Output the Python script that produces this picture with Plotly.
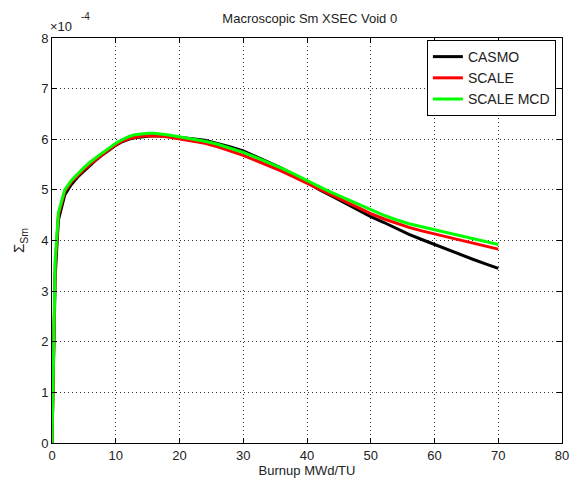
import plotly.graph_objects as go

# Burnup (MWd/TU) and macroscopic Sm cross section (units of 1e-4)
burnup = [0, 0.5, 1, 2, 3, 4, 5, 6, 7, 8, 9, 10, 11, 12, 13, 14, 15, 16, 17, 18, 19, 20,
          22, 24, 26, 28, 30, 32, 34, 36, 38, 40, 42, 44, 46, 48, 50, 52, 54, 56, 58, 60,
          62, 64, 66, 68, 70]

casmo = [0, 3.3, 4.4, 4.9, 5.1, 5.25, 5.37, 5.49, 5.6, 5.7, 5.79, 5.88, 5.95, 6.0, 6.03,
         6.05, 6.06, 6.07, 6.07, 6.06, 6.05, 6.04, 6.01, 5.98, 5.92, 5.85, 5.77, 5.66, 5.55,
         5.43, 5.3, 5.15, 5.0, 4.87, 4.74, 4.6, 4.47, 4.36, 4.24, 4.12, 4.02, 3.92, 3.82,
         3.73, 3.63, 3.54, 3.45]

scale = [0, 3.5, 4.5, 4.97, 5.15, 5.28, 5.4, 5.51, 5.61, 5.71, 5.8, 5.89, 5.96, 6.01, 6.04,
         6.06, 6.07, 6.07, 6.06, 6.05, 6.03, 6.01, 5.97, 5.92, 5.85, 5.77, 5.68, 5.58, 5.48,
         5.37, 5.25, 5.13, 5.01, 4.89, 4.77, 4.65, 4.53, 4.43, 4.34, 4.26, 4.19, 4.13, 4.07,
         4.01, 3.95, 3.89, 3.83]

scale_mcd = [0, 3.6, 4.55, 5.0, 5.18, 5.32, 5.44, 5.55, 5.65, 5.74, 5.83, 5.92, 5.99, 6.05,
             6.09, 6.11, 6.12, 6.12, 6.11, 6.09, 6.07, 6.05, 6.0, 5.96, 5.9, 5.82, 5.74, 5.64,
             5.54, 5.43, 5.31, 5.18, 5.06, 4.94, 4.83, 4.71, 4.6, 4.5, 4.41, 4.33, 4.27, 4.21,
             4.15, 4.1, 4.04, 3.98, 3.92]

series_names = ["CASMO", "SCALE", "SCALE MCD"]
series_colors = ["#000000", "#ff0000", "#00ff00"]

x_ticks = [0, 10, 20, 30, 40, 50, 60, 70, 80]
y_ticks = [0, 1, 2, 3, 4, 5, 6, 7, 8]

FONT = "Liberation Sans"
TXT = "#222222"

fig = go.Figure()
for name, ys, col in zip(series_names, [casmo, scale, scale_mcd], series_colors):
    fig.add_trace(go.Scatter(x=burnup, y=ys, mode="lines", name=name,
                             line=dict(color=col, width=3)))

axis_common = dict(
    showline=True, linecolor="black", linewidth=1, mirror="ticks",
    ticks="inside", ticklen=5, tickcolor="black",
    showgrid=True, gridcolor="#333333", gridwidth=1, griddash="1px,3px",
    zeroline=False, tickfont=dict(family=FONT, size=13, color=TXT),
)

fig.update_xaxes(range=[0, 80], tickvals=x_ticks,
                 title=dict(text="Burnup MWd/TU", font=dict(family=FONT, size=13, color=TXT), standoff=4),
                 **axis_common)
fig.update_yaxes(range=[0, 8], tickvals=y_ticks,
                 title=dict(text="Σ<sub>Sm</sub>", font=dict(family=FONT, size=15, color=TXT), standoff=12),
                 **axis_common)

fig.update_layout(
    width=579, height=486,
    margin=dict(l=52, r=10, t=38, b=42),
    paper_bgcolor="white", plot_bgcolor="white",
    title=dict(text="Macroscopic Sm XSEC Void 0", x=0.535, xanchor="center", y=0.963, yanchor="middle",
               font=dict(family=FONT, size=13, color=TXT)),
    legend=dict(x=0.988, y=0.995, xanchor="right", yanchor="top",
                bgcolor="white", bordercolor="black", borderwidth=1,
                font=dict(family=FONT, size=14, color=TXT)),
    showlegend=True,
)

fig.add_annotation(xref="paper", yref="paper", x=0, y=1, xanchor="left", yanchor="bottom",
                   xshift=-4, yshift=2, showarrow=False,
                   text="×10", font=dict(family=FONT, size=13, color=TXT))
fig.add_annotation(xref="paper", yref="paper", x=0, y=1, xanchor="left", yanchor="bottom",
                   xshift=27, yshift=14, showarrow=False,
                   text="-4", font=dict(family=FONT, size=10, color=TXT))

fig.write_html("out.html")
